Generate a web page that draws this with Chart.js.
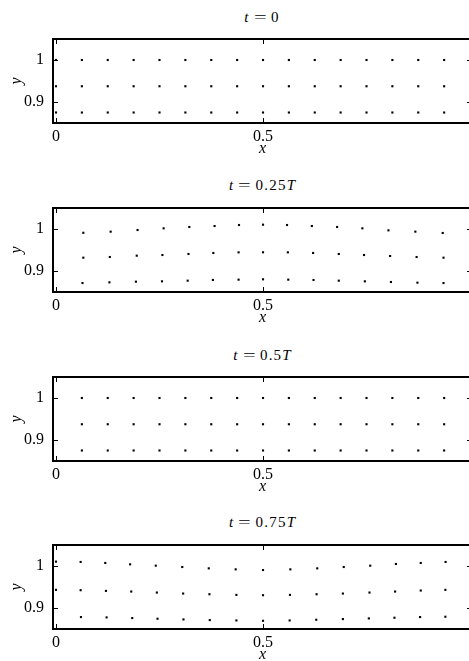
<!DOCTYPE html>
<html>
<head>
<meta charset="utf-8">
<title>Particle positions</title>
<script src="https://cdn.jsdelivr.net/npm/chart.js@4.4.1/dist/chart.umd.min.js"></script>
<style>
    html, body { margin: 0; padding: 0; background: #fff; overflow: hidden; }
    #wrap { position: relative; width: 469px; height: 661px; overflow: hidden; }
    .panel-title {
        position: absolute; left: 0; width: 524px; text-align: center;
        font: 15px "Liberation Serif", serif; color: #000; line-height: 18px;
    }
    .panel-title .eq { display: inline-block; transform: scaleX(1.5); margin: 0 7px; }
    .panel-title .num { letter-spacing: 1.2px; }
    canvas { position: absolute; left: 0; }
</style>
</head>
<body>
<div id="wrap"></div>
<script>
// Data

// t = 0 (regular grid)
const t0X = [0, 0.0625, 0.125, 0.1875, 0.25, 0.3125, 0.375, 0.4375, 0.5, 0.5625, 0.625, 0.6875, 0.75, 0.8125, 0.875, 0.9375];
const t0TopY = [1, 1, 1, 1, 1, 1, 1, 1, 1, 1, 1, 1, 1, 1, 1, 1];
const t0MidY = [0.9375, 0.9375, 0.9375, 0.9375, 0.9375, 0.9375, 0.9375, 0.9375, 0.9375, 0.9375, 0.9375, 0.9375, 0.9375, 0.9375, 0.9375, 0.9375];
const t0BotY = [0.875, 0.875, 0.875, 0.875, 0.875, 0.875, 0.875, 0.875, 0.875, 0.875, 0.875, 0.875, 0.875, 0.875, 0.875, 0.875];

// t = 0.25T
const q1TopX = [0.066, 0.132, 0.197, 0.26, 0.322, 0.383, 0.442, 0.5, 0.558, 0.618, 0.679, 0.74, 0.803, 0.868, 0.934];
const q1TopY = [0.991, 0.9937, 0.9976, 1.0016, 1.0048, 1.0071, 1.0095, 1.0103, 1.0095, 1.0071, 1.0048, 1.0016, 0.9968, 0.9937, 0.9905];
const q1MidX = [0.066, 0.13, 0.195, 0.257, 0.32, 0.38, 0.441, 0.5, 0.56, 0.621, 0.683, 0.744, 0.807, 0.871, 0.936];
const q1MidY = [0.9317, 0.9333, 0.9365, 0.9381, 0.9405, 0.9429, 0.9444, 0.9446, 0.9444, 0.9429, 0.9405, 0.9381, 0.9357, 0.9333, 0.9317];
const q1BotX = [0.064, 0.129, 0.193, 0.256, 0.318, 0.379, 0.441, 0.5, 0.561, 0.622, 0.683, 0.746, 0.809, 0.873, 0.936];
const q1BotY = [0.8714, 0.873, 0.8746, 0.8754, 0.877, 0.8786, 0.8794, 0.8802, 0.8794, 0.8786, 0.877, 0.8754, 0.8738, 0.8722, 0.8714];

// t = 0.5T
const h2X = [0.0625, 0.125, 0.1875, 0.25, 0.3125, 0.375, 0.4375, 0.5, 0.5625, 0.625, 0.6875, 0.75, 0.8125, 0.875, 0.9375];
const h2TopY = [1, 1, 1, 1, 1, 1, 1, 1, 1, 1, 1, 1, 1, 1, 1];
const h2MidY = [0.9375, 0.9375, 0.9375, 0.9375, 0.9375, 0.9375, 0.9375, 0.9375, 0.9375, 0.9375, 0.9375, 0.9375, 0.9375, 0.9375, 0.9375];
const h2BotY = [0.875, 0.875, 0.875, 0.875, 0.875, 0.875, 0.875, 0.875, 0.875, 0.875, 0.875, 0.875, 0.875, 0.875, 0.875];

// t = 0.75T
const q3TopX = [0, 0.0595, 0.119, 0.179, 0.241, 0.305, 0.369, 0.434, 0.5, 0.566, 0.631, 0.695, 0.759, 0.821, 0.881, 0.941];
const q3TopY = [1.0104, 1.0096, 1.0072, 1.004, 1.0008, 0.9976, 0.9944, 0.992, 0.9904, 0.992, 0.9944, 0.9976, 1.0008, 1.0048, 1.0072, 1.0096];
const q3MidX = [0, 0.0595, 0.1206, 0.1817, 0.2436, 0.3071, 0.3706, 0.4357, 0.5, 0.5651, 0.6294, 0.6929, 0.7572, 0.8191, 0.881, 0.9405];
const q3MidY = [0.9432, 0.9424, 0.9408, 0.9392, 0.9368, 0.9344, 0.9328, 0.9312, 0.9304, 0.9312, 0.9328, 0.9344, 0.9368, 0.9392, 0.9416, 0.9432];
const q3BotX = [0.0603, 0.1222, 0.1841, 0.2452, 0.3079, 0.3714, 0.4357, 0.5, 0.5643, 0.6286, 0.6929, 0.7556, 0.8175, 0.8794, 0.9405];
const q3BotY = [0.8784, 0.8776, 0.876, 0.8744, 0.8728, 0.8712, 0.8704, 0.8696, 0.8704, 0.872, 0.8736, 0.8752, 0.8768, 0.8784, 0.8792];

// axis ticks
const xTicks = [0, 0.5];
const xTickLabels = ["0", "0.5"];
const yTicks = [0.9, 1];
const yTickLabels = ["0.9", "1"];

const titles = [
    '<i>t</i><span class="eq">=</span><span class="num">0</span>',
    '<i>t</i><span class="eq">=</span><span class="num">0.25</span><i>T</i>',
    '<i>t</i><span class="eq">=</span><span class="num">0.5</span><i>T</i>',
    '<i>t</i><span class="eq">=</span><span class="num">0.75</span><i>T</i>'
];

const rows = [
    [[t0X, t0TopY], [t0X, t0MidY], [t0X, t0BotY]],
    [[q1TopX, q1TopY], [q1MidX, q1MidY], [q1BotX, q1BotY]],
    [[h2X, h2TopY], [h2X, h2MidY], [h2X, h2BotY]],
    [[q3TopX, q3TopY], [q3MidX, q3MidY], [q3BotX, q3BotY]]
];

const boxTops = [39, 208, 377, 545];
const titleTops = [8, 176, 345.5, 512.5];

Chart.defaults.font.family = "'Liberation Serif', serif";
Chart.defaults.font.size = 16;
Chart.defaults.color = "#000";

// frame and inward ticks; the right spine is cut off by the page edge
const frame = {
    id: "frame",
    afterDatasetsDraw(chart) {
        const {ctx, chartArea: a, scales} = chart;
        ctx.save();
        ctx.strokeStyle = "#000";
        ctx.lineWidth = 1;
        xTicks.forEach(v => {
            const px = Math.round(scales.x.getPixelForValue(v)) + 0.5;
            ctx.beginPath();
            ctx.moveTo(px, a.bottom); ctx.lineTo(px, a.bottom - 5);
            ctx.moveTo(px, a.top); ctx.lineTo(px, a.top + 5);
            ctx.stroke();
        });
        yTicks.forEach(v => {
            const py = Math.round(scales.y.getPixelForValue(v)) + 0.5;
            ctx.beginPath();
            ctx.moveTo(a.left, py); ctx.lineTo(a.left + 5, py);
            ctx.moveTo(a.right, py); ctx.lineTo(a.right - 5, py);
            ctx.stroke();
        });
        ctx.lineWidth = 2;
        ctx.beginPath();
        ctx.moveTo(a.right + 2, a.top);
        ctx.lineTo(a.left, a.top);
        ctx.lineTo(a.left, a.bottom);
        ctx.lineTo(a.right + 2, a.bottom);
        ctx.stroke();
        ctx.restore();
    }
};

const wrap = document.getElementById("wrap");

rows.forEach((panel, i) => {
    const t = document.createElement("div");
    t.className = "panel-title";
    t.style.top = titleTops[i] + "px";
    t.innerHTML = titles[i];
    wrap.appendChild(t);

    const canvas = document.createElement("canvas");
    canvas.width = 476;
    canvas.height = 130;
    canvas.style.top = (boxTops[i] - 8) + "px";
    wrap.appendChild(canvas);

    new Chart(canvas, {
        type: "scatter",
        data: {
            datasets: panel.map(([xs, ys]) => ({
                data: xs.map((x, k) => ({x: x, y: ys[k]})),
                pointStyle: "rect",
                pointRadius: 1.5,
                pointBorderWidth: 0,
                backgroundColor: "#000",
                borderColor: "#000"
            }))
        },
        options: {
            responsive: false,
            animation: false,
            events: [],
            layout: { padding: { top: 8, left: 0, right: 4, bottom: 0 } },
            plugins: {
                legend: { display: false },
                tooltip: { enabled: false }
            },
            scales: {
                x: {
                    type: "linear",
                    min: -0.00725,
                    max: 1.0048,
                    grid: { display: false, drawTicks: false },
                    border: { display: false },
                    afterBuildTicks: s => { s.ticks = xTicks.map(v => ({value: v})); },
                    afterFit: s => { s.height = 38; s.paddingLeft = 0; s.paddingRight = 0; },
                    ticks: {
                        padding: 4,
                        maxRotation: 0,
                        callback: v => xTickLabels[xTicks.indexOf(v)]
                    },
                    title: {
                        display: true,
                        text: "x",
                        font: { size: 16, style: "italic" },
                        padding: { top: 0, bottom: 3 }
                    }
                },
                y: {
                    type: "linear",
                    min: 0.85,
                    max: 1.05,
                    grid: { display: false, drawTicks: false },
                    border: { display: false },
                    afterBuildTicks: s => { s.ticks = yTicks.map(v => ({value: v})); },
                    afterFit: s => { s.width = 53; s.paddingTop = 0; s.paddingBottom = 0; },
                    ticks: {
                        padding: 9,
                        callback: v => yTickLabels[yTicks.indexOf(v)]
                    },
                    title: {
                        display: true,
                        text: "y",
                        font: { size: 16, style: "italic" },
                        padding: { top: 7, bottom: 0 }
                    }
                }
            }
        },
        plugins: [frame]
    });
});
</script>
</body>
</html>
